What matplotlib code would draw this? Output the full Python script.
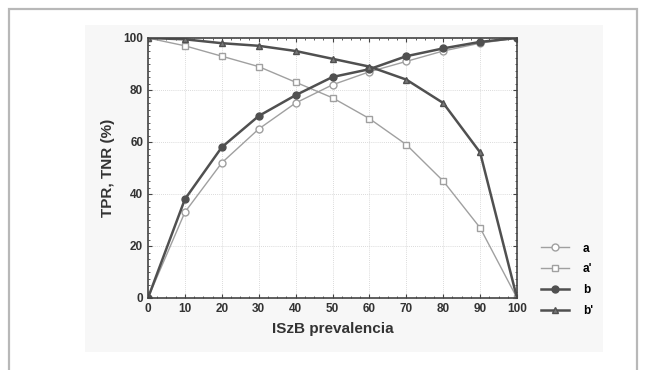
import matplotlib
matplotlib.use("Agg")
import matplotlib.pyplot as plt
from matplotlib.patches import Rectangle
from matplotlib.ticker import MultipleLocator

prevalence = [0, 10, 20, 30, 40, 50, 60, 70, 80, 90, 100]
tpr_a = [0, 33, 52, 65, 75, 82, 87, 91, 95, 98, 100]
tnr_a = [100, 97, 93, 89, 83, 77, 69, 59, 45, 27, 0]
tpr_b = [0, 38, 58, 70, 78, 85, 88, 93, 96, 98.5, 100]
tnr_b = [100, 99.5, 98, 97, 95, 92, 89, 84, 75, 56, 0]
labels = ["a", "a'", "b", "b'"]
xticks = [0, 10, 20, 30, 40, 50, 60, 70, 80, 90, 100]
yticks = [0, 20, 40, 60, 80, 100]

plt.rcParams['font.family'] = ['Liberation Sans', 'DejaVu Sans']

fig = plt.figure(figsize=(6.46, 3.70), dpi=100)
fig.patches.append(Rectangle((9/646, -0.05), 628/646, 1.05 - 9/370, transform=fig.transFigure,
                             fill=False, edgecolor="#b8b8b8", linewidth=1.6, zorder=-10))
fig.patches.append(Rectangle((85/646, 1 - 352/370), 518/646, 327/370, transform=fig.transFigure,
                             facecolor="#f7f7f7", edgecolor="none", zorder=-9))

ax = fig.add_axes([148/646, 1 - 298/370, 369/646, 260/370])
ax.set_zorder(5)
ax.set_facecolor("white")

light = "#a0a0a0"
dark = "#505050"
ax.plot(prevalence, tpr_a, color=light, lw=1.0, marker="o", ms=5, mfc="white", mec=light, label=labels[0])
ax.plot(prevalence, tnr_a, color=light, lw=1.0, marker="s", ms=5, mfc="white", mec=light, label=labels[1])
ax.plot(prevalence, tpr_b, color=dark, lw=1.8, marker="o", ms=5, mfc=dark, mec=dark, label=labels[2])
ax.plot(prevalence, tnr_b, color=dark, lw=1.8, marker="^", ms=5, mfc="#777777", mec=dark, label=labels[3])

ax.set_xlim(0, 100)
ax.set_ylim(0, 100)
ax.set_xticks(xticks)
ax.set_yticks(yticks)
ax.xaxis.set_minor_locator(MultipleLocator(2.5))
ax.yaxis.set_minor_locator(MultipleLocator(2.5))
ax.tick_params(which="both", direction="in", top=True, right=True, colors="#444444",
               labelcolor="#333333", labelsize=8.5)
ax.tick_params(which="major", length=3)
ax.tick_params(which="minor", length=1.5)
for lab in ax.get_xticklabels() + ax.get_yticklabels():
    lab.set_fontweight("bold")
ax.grid(True, which="major", color="#cfcfcf", lw=0.6, ls=(0, (1, 1.5)))
for s in ax.spines.values():
    s.set_color("#444444")
    s.set_linewidth(1.2)

ax.set_xlabel("ISzB prevalencia", fontsize=11, color="#333333", labelpad=5, fontweight="bold")
ax.set_ylabel("TPR, TNR (%)", fontsize=11, color="#333333", labelpad=6, fontweight="bold")

leg = ax.legend(loc="center left", bbox_to_anchor=(1.035, 0.07), frameon=False,
                prop={"size": 8.5, "weight": "bold"},
                handlelength=2.4, labelspacing=0.75, handletextpad=1.2)

fig.savefig("out.png", dpi=100)
